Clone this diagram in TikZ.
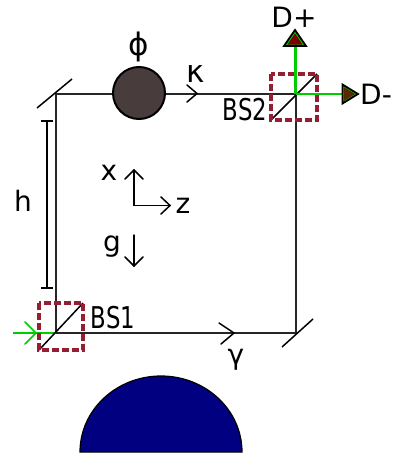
\documentclass[tikz,border=0pt]{standalone}
\usepackage{fontspec}
\setmainfont{DejaVu Sans}
\definecolor{bsred}{HTML}{961E32}
\definecolor{lgreen}{HTML}{00CC00}
\definecolor{phasecol}{HTML}{483C3C}
\definecolor{earth}{HTML}{000080}
\definecolor{detred}{HTML}{7A0000}
\definecolor{detbrown}{HTML}{5A2800}
\tikzset{
  beam/.style={draw=black!85,line width=2.3pt},
  thin line/.style={draw=black,line width=1.5pt},
  barb/.style={draw=black,line width=1.5pt,line cap=round,line join=miter},
  gbeam/.style={draw=lgreen,line width=2.4pt},
  bsbox/.style={draw=bsred,line width=3.4pt,dash pattern=on 7pt off 3pt},
  lab/.style={inner sep=0pt,font=\fontsize{28}{28}\selectfont},
  bslab/.style={inner sep=0pt,font=\fontsize{30}{30}\selectfont,xscale=.76},
  detout/.style={draw=black,line width=1.8pt,line join=miter}
}
\begin{document}
\begin{tikzpicture}[x=1pt,y=-1pt]
\useasboundingbox (0,0) rectangle (393,458);
% loop corners
\coordinate (tl) at (56,94);
\coordinate (tr) at (296,94);
\coordinate (br) at (296,333);
\coordinate (bl) at (56,333);
% earth
\draw[fill=earth,draw=black,line width=1.2pt] (80,452) .. controls (80,410) and (116.3,376) .. (161,376) .. controls (205.7,376) and (242,410) .. (242,452) -- cycle;
% loop
\draw[beam,line join=miter] (bl) -- (tl) -- (tr) -- (br) -- cycle;
% mirrors
\coordinate (m1a) at (37,108); \coordinate (m1b) at (72,79);
\coordinate (m2a) at (282,347); \coordinate (m2b) at (313,319);
\draw[thin line] (m1a) -- (m1b);
\draw[thin line] (m2a) -- (m2b);
% phase
\node[circle,draw=black,line width=2pt,fill=phasecol,minimum size=52pt,inner sep=0pt] (phase) at (139,93) {};
% arrows on beams
\coordinate (kt) at (197,93.5); \coordinate (k1) at (187,85); \coordinate (k2) at (187,102);
\draw[barb] (k1) -- (kt) -- (k2);
\coordinate (gt) at (234,333); \coordinate (g1) at (219,323); \coordinate (g2) at (221,344);
\draw[barb] (g1) -- (gt) -- (g2);
% height marker
\coordinate (hb) at (47,121); \coordinate (he) at (47,288);
\draw[black,line width=1.4pt] (hb) -- (he);
\draw[black,line width=1.4pt] (41,121) -- (53,121) (41,288) -- (53,288);
% BS1
\coordinate (b1c) at (56,333);
\coordinate (in) at (13,333);
\coordinate (b1a) at (39,350); \coordinate (b1b) at (83,303);
\draw[gbeam] (in) -- (b1c);
\draw[draw=lgreen,line width=1.6pt,line cap=round] (25,322) -- (36,333) -- (25,344);
\draw[thin line] (b1a) -- (b1b);
\draw[bsbox] (39,303) rectangle (83,350);
% BS2
\coordinate (b2c) at (295.5,94);
\coordinate (b2a) at (271,120); \coordinate (b2b) at (317,74);
\draw[thin line] (b2a) -- (b2b);
\draw[bsbox] (271,74) rectangle (317,120);
\coordinate (dpb) at (295.5,46); \coordinate (dmb) at (343,94);
\draw[gbeam] (b2c) -- (dpb);
\draw[gbeam] (b2c) -- (dmb);
% detectors
\draw[detout,fill=lgreen] (295,30) -- (284,46) -- (306,46) -- cycle;
\fill[detred] (295,33.5) -- (287.5,44.5) -- (302.5,44.5) -- cycle;
\draw[detout,fill=lgreen] (358,94) -- (342.5,84.5) -- (342.5,103.5) -- cycle;
\fill[detbrown] (355,94) -- (344,87.2) -- (344,100.8) -- cycle;
% axes
\coordinate (o) at (134,205.5); \coordinate (xe) at (134,170); \coordinate (ze) at (170,205.5);
\draw[barb] (125,179) -- (xe) -- (143,179);
\draw[barb] (xe) -- (o) -- (ze);
\draw[barb] (161,197) -- (ze) -- (161,214);
\coordinate (gs) at (134,235); \coordinate (ge) at (134,266);
\draw[barb] (gs) -- (ge);
\draw[barb] (125,257) -- (ge) -- (143,257);
% labels
\node[lab,font=\fontsize{31}{31}\selectfont] (lphi) at (139,47) {ϕ};
\node[lab,font=\fontsize{31}{31}\selectfont] (lkappa) at (196,74) {κ};
\node[lab] (lx) at (109,173) {x};
\node[lab] (lz) at (183,206) {z};
\node[lab] (lg) at (112,247) {g};
\node[lab] (lh) at (23,201) {h};
\node[lab] (lgamma) at (236,360) {γ};
\node[lab] (ldp) at (294,17) {D+};
\node[lab,anchor=west] (ldm) at (360,94) {D-};
\node[bslab] (lb1) at (113,318) {BS1};
\node[bslab] (lb2) at (245,110) {BS2};
\end{tikzpicture}
\end{document}
